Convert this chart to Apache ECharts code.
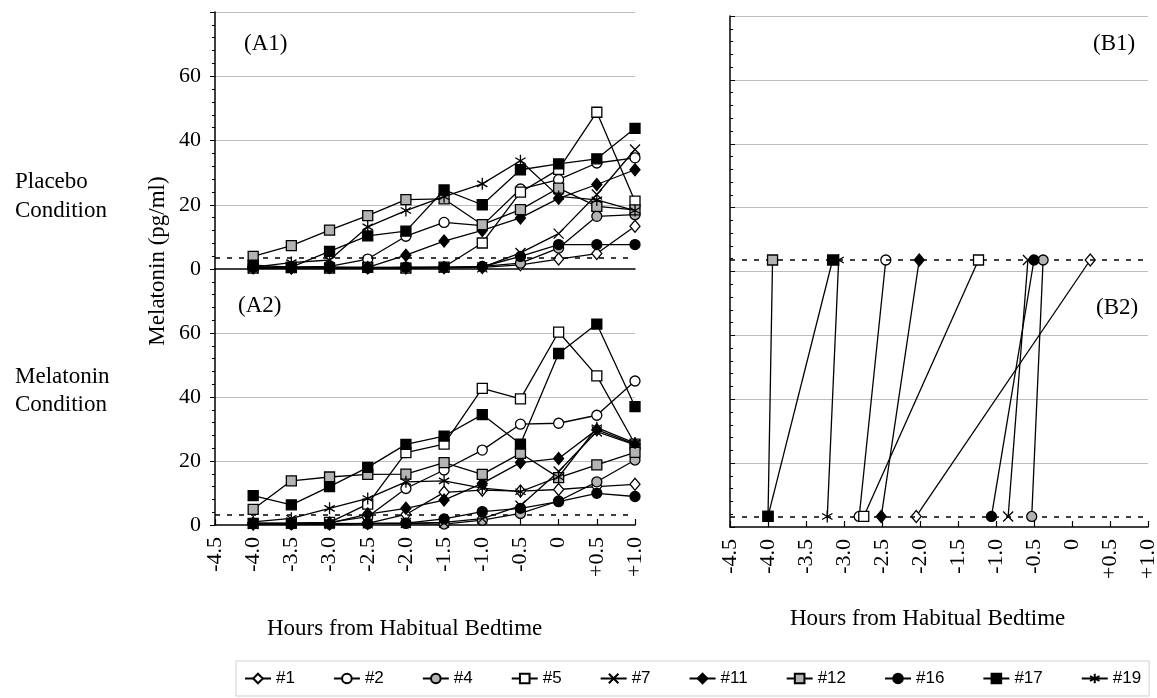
<!DOCTYPE html>
<html>
<head>
<meta charset="utf-8">
<title>Melatonin onset</title>
<script src="https://cdn.jsdelivr.net/npm/echarts@6/dist/echarts.min.js"></script>
<style>
  html, body { margin: 0; padding: 0; background: #fff; }
  #chart { width: 1157px; height: 698px; }
</style>
</head>
<body>
<div id="chart"></div>
<script>
// hours from habitual bedtime (sampling times)
const hours = [-4.0, -3.5, -3.0, -2.5, -2.0, -1.5, -1.0, -0.5, 0, 0.5, 1.0]
const subjects = ['#1', '#2', '#4', '#5', '#7', '#11', '#12', '#16', '#17', '#19']
const yTicks = [0, 20, 40, 60]

// (A1) placebo condition, one row per subject, pg/ml
const placebo = [
  [0.4, 0.3, 0.5, 0.4, 0.3, 0.4, 0.5, 1.3, 3.1, 4.8, 13.3],
  [0.5, 0.6, 0.8, 3.1, 10.2, 14.5, 13.5, 24.9, 27.8, 33.0, 34.6],
  [0.6, 0.5, 0.4, 0.5, 0.6, 0.5, 0.8, 1.8, 6.5, 16.4, 16.9],
  [0.3, 0.4, 0.3, 0.5, 0.3, 0.6, 8.1, 23.9, 31.0, 48.8, 21.1],
  [0.3, 0.4, 0.3, 0.4, 0.3, 0.4, 0.5, 5.0, 11.0, 23.2, 37.2],
  [0.5, 0.4, 0.6, 0.5, 4.3, 8.7, 12.0, 15.9, 22.0, 26.3, 30.9],
  [3.9, 7.3, 12.1, 16.6, 21.6, 21.8, 13.8, 18.5, 25.2, 19.5, 18.4],
  [0.5, 0.6, 0.4, 0.3, 0.5, 0.6, 0.7, 3.9, 7.6, 7.6, 7.6],
  [1.2, 0.6, 5.5, 10.3, 11.8, 24.6, 20.0, 30.9, 32.7, 34.3, 43.8],
  [0.6, 2.0, 2.8, 13.1, 18.2, 22.5, 26.5, 33.7, 22.6, 21.5, 18.2]
]

// (A2) melatonin condition
const melatonin = [
  [0.3, 0.4, 0.3, 0.5, 3.3, 10.2, 10.9, 10.6, 11.1, 12.0, 12.7],
  [0.6, 0.5, 0.8, 2.6, 11.4, 17.2, 23.4, 31.5, 31.8, 34.3, 45.0],
  [0.4, 0.3, 0.5, 0.4, 0.5, 0.3, 1.5, 3.6, 7.5, 13.5, 20.3],
  [0.5, 0.6, 0.8, 6.5, 22.6, 25.3, 42.7, 39.4, 60.3, 46.6, 25.3],
  [0.3, 0.4, 0.3, 0.5, 0.6, 0.8, 2.0, 6.0, 16.7, 29.2, 25.0],
  [0.4, 0.5, 0.6, 3.4, 5.2, 7.8, 13.0, 19.5, 20.8, 29.8, 25.2],
  [4.9, 13.8, 15.0, 15.8, 15.9, 19.5, 15.8, 22.4, 14.8, 18.8, 22.7],
  [0.5, 0.4, 0.3, 0.5, 0.6, 1.9, 4.2, 5.2, 7.3, 9.9, 8.9],
  [9.2, 6.3, 12.0, 18.0, 25.2, 27.8, 34.5, 25.3, 53.6, 62.8, 37.0],
  [1.0, 2.1, 5.2, 8.3, 13.5, 13.8, 11.5, 10.4, 15.0, 30.4, 25.6]
]

// (B1)/(B2) onset times, hours from bedtime
const onsetPlacebo = [0.24, -2.45, -0.38, -1.23, -0.58, -2.01, -3.94, -0.50, -3.15, -3.07]
const onsetMelatonin = [-2.05, -2.80, -0.53, -2.74, -0.84, -2.51, -4.00, -1.06, -4.00, -3.22]

const thresholdPlacebo = 3.6
const thresholdMelatonin = 3.3
const panelSpan = 80 // B panel stacks B1 above B2

const SERIF = 'Liberation Serif'
const GRAY = '#b3b3b3'
const crossPath = 'path://M0,0L10,10M10,0L0,10'
const starPath = 'path://M5,0L5,10M0.7,2.5L9.3,7.5M9.3,2.5L0.7,7.5'

const symbols = ['diamond', 'circle', 'circle', 'rect', crossPath, 'diamond', 'rect', 'circle', 'rect', starPath]
const symbolSizes = [[10, 12], 10, 10, 10, 10, [10, 12], 10, 10, 10, 12]
const fills = ['#fff', '#fff', GRAY, '#fff', '#000', '#000', GRAY, '#000', '#000', '#000']

const chart = echarts.init(document.getElementById('chart'))

const xFmt = v => (v === 0 ? '0' : (v > 0 ? '+' : '') + v.toFixed(1))

function xAxis(gridIndex, showLabels) {
  return {
    type: 'value',
    gridIndex,
    min: -4.5,
    max: 1.0,
    interval: 0.5,
    axisLine: { onZero: false, lineStyle: { color: '#000', width: 1.5 } },
    axisTick: { show: showLabels, inside: true, length: 6, lineStyle: { color: '#000', width: 1.2 } },
    axisLabel: {
      show: showLabels,
      rotate: 90,
      margin: 12,
      color: '#000',
      fontFamily: SERIF,
      fontSize: 22,
      formatter: xFmt
    },
    splitLine: { show: false }
  }
}

function yAxis(gridIndex, max, showLabels, showMaxLine) {
  return {
    type: 'value',
    gridIndex,
    min: 0,
    max,
    interval: 20,
    axisLine: { show: true, onZero: false, lineStyle: { color: '#000', width: 1.5 } },
    axisTick: { show: true, inside: !showLabels, length: 5, lineStyle: { color: '#000' } },
    minorTick: { show: true, splitNumber: 5, length: 3, lineStyle: { color: '#000' } },
    axisLabel: {
      show: showLabels,
      showMaxLabel: false,
      margin: 14,
      color: '#000',
      fontFamily: SERIF,
      fontSize: 22,
      formatter: v => (yTicks.indexOf(v) >= 0 ? String(v) : '')
    },
    splitLine: {
      show: true,
      showMinLine: false,
      showMaxLine,
      lineStyle: { color: '#bdbdbd', width: 1 }
    }
  }
}

const dashed = { color: '#000', width: 1.6, type: [5, 7] }

const series = []
subjects.forEach((name, k) => {
  const base = {
    name,
    type: 'line',
    symbol: symbols[k],
    symbolSize: symbolSizes[k],
    symbolKeepAspect: true,
    lineStyle: { color: '#000', width: 1.3 },
    itemStyle: { color: fills[k], borderColor: '#000', borderWidth: 1.3 },
    emphasis: { disabled: true },
    z: 3 + k
  }
  series.push(Object.assign({}, base, {
    xAxisIndex: 0, yAxisIndex: 0,
    data: hours.map((h, i) => [h, placebo[k][i]])
  }))
  series.push(Object.assign({}, base, {
    xAxisIndex: 1, yAxisIndex: 1,
    data: hours.map((h, i) => [h, melatonin[k][i]])
  }))
  series.push(Object.assign({}, base, {
    xAxisIndex: 2, yAxisIndex: 2,
    data: [
      [onsetPlacebo[k], panelSpan + thresholdPlacebo],
      [onsetMelatonin[k], thresholdMelatonin]
    ]
  }))
})

// threshold lines
const thresholdLine = (xi, values) => ({
  type: 'line',
  xAxisIndex: xi,
  yAxisIndex: xi,
  data: [],
  z: 2,
  markLine: {
    silent: true,
    symbol: 'none',
    label: { show: false },
    lineStyle: dashed,
    data: values.map(v => ({ yAxis: v }))
  }
})
series.push(thresholdLine(0, [thresholdPlacebo]))
series.push(thresholdLine(1, [thresholdMelatonin]))
series.push(thresholdLine(2, [panelSpan + thresholdPlacebo, thresholdMelatonin]))

const serifText = (text, left, top, extra) => Object.assign({
  type: 'text',
  left, top,
  style: { text, font: '23px "Liberation Serif"', fill: '#000' }
}, extra || {})

chart.setOption({
  animation: false,
  backgroundColor: '#fff',
  grid: [
    { left: 215, top: 12, width: 420, height: 257, outerBoundsMode: 'none' },
    { left: 215, top: 269, width: 420, height: 256, outerBoundsMode: 'none' },
    { left: 730, top: 16, width: 418, height: 511, outerBoundsMode: 'none' }
  ],
  xAxis: [xAxis(0, false), xAxis(1, true), xAxis(2, true)],
  yAxis: [
    yAxis(0, 80, true, true),
    yAxis(1, 80, true, false),
    yAxis(2, 2 * panelSpan, false, true)
  ],
  legend: {
    data: subjects,
    left: 236,
    top: 661,
    itemWidth: 26,
    itemHeight: 12,
    itemGap: 38,
    padding: [9, 8, 9, 8],
    borderColor: '#d0d0d0',
    borderWidth: 1,
    selectedMode: false,
    textStyle: { fontFamily: 'Liberation Sans', fontSize: 17, color: '#000' }
  },
  graphic: [
    serifText('Placebo', 15, 170),
    serifText('Condition', 15, 199),
    serifText('Melatonin', 15, 365),
    serifText('Condition', 15, 393),
    serifText('(A1)', 244, 32),
    serifText('(A2)', 238, 294),
    serifText('(B1)', 1093, 32),
    serifText('(B2)', 1096, 296),
    serifText('Hours from Habitual Bedtime', 267, 617),
    serifText('Hours from Habitual Bedtime', 790, 607),
    {
      type: 'text',
      x: 158,
      y: 261,
      rotation: Math.PI / 2,
      style: {
        text: 'Melatonin (pg/ml)',
        font: '23px "Liberation Serif"',
        fill: '#000',
        align: 'center',
        verticalAlign: 'middle'
      }
    }
  ],
  series
})
</script>
</body>
</html>
